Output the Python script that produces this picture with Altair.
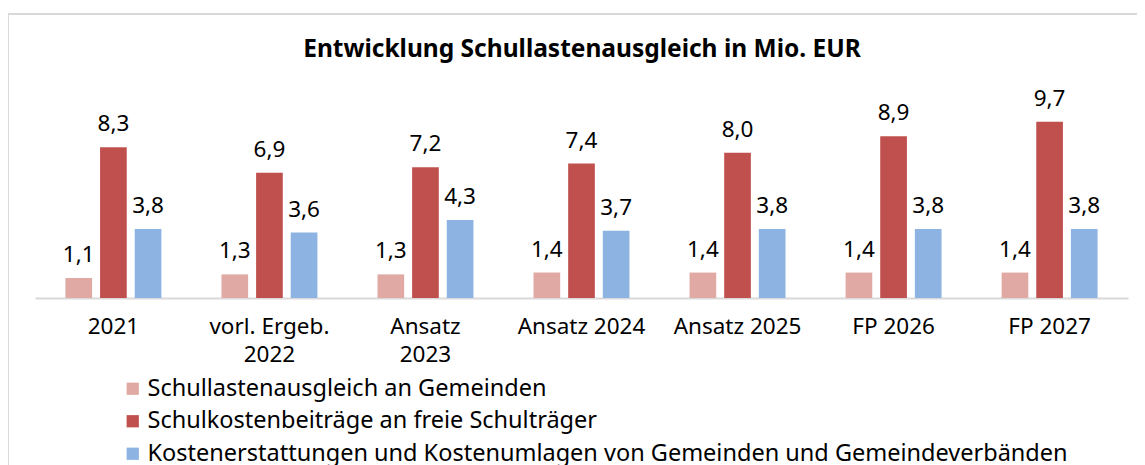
import altair as alt
import pandas as pd

categories = ["2021", "vorl. Ergeb. 2022", "Ansatz 2023", "Ansatz 2024",
              "Ansatz 2025", "FP 2026", "FP 2027"]
series_names = ["Schullastenausgleich an Gemeinden",
                "Schulkostenbeiträge an freie Schulträger",
                "Kostenerstattungen und Kostenumlagen von Gemeinden und Gemeindeverbänden"]
s_gemeinden = [1.1, 1.3, 1.3, 1.4, 1.4, 1.4, 1.4]
s_schultraeger = [8.3, 6.9, 7.2, 7.4, 8.0, 8.9, 9.7]
s_kosten = [3.8, 3.6, 4.3, 3.7, 3.8, 3.8, 3.8]
colors = ["#E0A9A4", "#C0504D", "#8DB3E2"]
wrapped = {"vorl. Ergeb. 2022": ["vorl. Ergeb.", "2022"],
           "Ansatz 2023": ["Ansatz", "2023"]}
title_text = ["Entwicklung Schullastenausgleich in Mio. EUR"]

rows = []
for i, c in enumerate(categories):
    for name, vals in zip(series_names, [s_gemeinden, s_schultraeger, s_kosten]):
        v = vals[i]
        rows.append({"cat": c, "series": name, "value": v,
                     "label": f"{v:.1f}".replace(".", ",")})
df = pd.DataFrame(rows)

label_expr = ""
for k, parts in wrapped.items():
    arr = "[" + ",".join(f"'{p}'" for p in parts) + "]"
    label_expr += f"datum.label == '{k}' ? {arr} : "
label_expr += "datum.label"

FONT = "Noto Sans"

x_enc = alt.X("cat:N", sort=categories, title=None,
              scale=alt.Scale(paddingInner=0.385, paddingOuter=0.195),
              axis=alt.Axis(labelAngle=0, labelExpr=label_expr, ticks=False,
                            domainColor="#D9D9D9", domainWidth=2,
                            labelFontSize=22.5, labelColor="#000000", labelFont=FONT,
                            labelPadding=17, labelLineHeight=28, labelLimit=300))
xo_enc = alt.XOffset("series:N", sort=series_names,
                     scale=alt.Scale(paddingInner=0.23, paddingOuter=0))
y_enc = alt.Y("value:Q", scale=alt.Scale(domain=[0, 12]), axis=None)

base = alt.Chart(df)
bars = base.mark_bar().encode(
    x=x_enc, xOffset=xo_enc, y=y_enc,
    color=alt.Color("series:N", sort=series_names,
                    scale=alt.Scale(domain=series_names, range=colors),
                    legend=alt.Legend(title=None, orient="none", legendX=86, legendY=297,
                                      direction="vertical", symbolType="square",
                                      symbolSize=150, symbolStrokeWidth=0,
                                      labelFontSize=23.5, labelFont=FONT, labelColor="#000000",
                                      labelOffset=3, rowPadding=7.5, labelLimit=1100,
                                      padding=0))
)
texts = base.mark_text(baseline="alphabetic", dy=-16, fontSize=22.5, font=FONT,
                       color="#000000").encode(
    x=x_enc, xOffset=xo_enc, y=y_enc, text="label:N"
)

frame_df = pd.DataFrame({"k": [0]})
top_rule = alt.Chart(frame_df).mark_rule(color="#D9D9D9", strokeWidth=2).encode(
    x=alt.value(-27), x2=alt.value(1110), y=alt.value(-66))
left_rule = alt.Chart(frame_df).mark_rule(color="#D9D9D9", strokeWidth=2).encode(
    x=alt.value(-27), y=alt.value(-66), y2=alt.value(400))

title_mark = alt.Chart(pd.DataFrame({"t": title_text})).mark_text(
    font=FONT, fontSize=24.5, fontWeight="bold", color="#000000",
    align="center", baseline="alphabetic").encode(
    x=alt.value(547), y=alt.value(-23), text="t:N")

chart = alt.layer(top_rule, left_rule, title_mark, bars, texts).properties(
    width=1093, height=218,
    autosize=alt.AutoSizeParams(type="none"),
    padding={"left": 27, "top": 72, "right": 9, "bottom": 167},
).configure_view(stroke=None)

chart.save("out.html", embed_options={"renderer": "svg", "actions": False})
